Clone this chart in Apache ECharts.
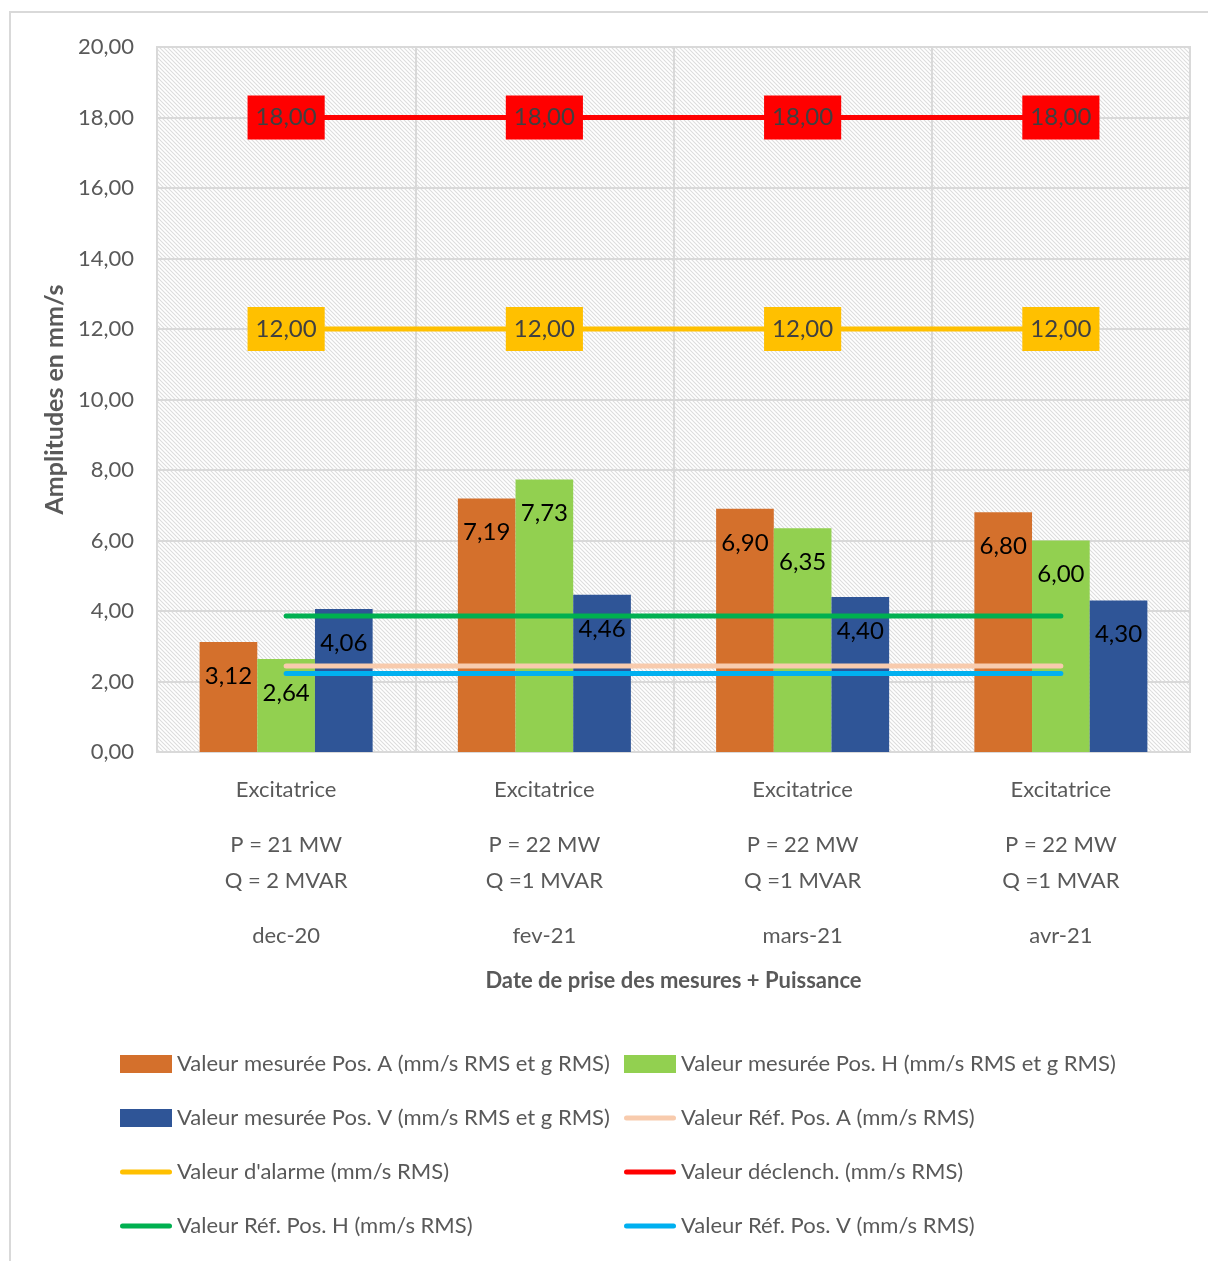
<!DOCTYPE html>
<html>
<head>
<meta charset="utf-8">
<script src="https://cdn.jsdelivr.net/npm/echarts@6/dist/echarts.min.js"></script>
<style>
  html, body { margin: 0; padding: 0; background: #fff; }
  #chart { width: 1208px; height: 1261px; }
</style>
</head>
<body>
<div id="chart"></div>
<script>
// Mesures de vibration - Excitatrice
const components = ['Excitatrice', 'Excitatrice', 'Excitatrice', 'Excitatrice'];
const powerP = ['P = 21 MW', 'P = 22 MW', 'P = 22 MW', 'P = 22 MW'];
const powerQ = ['Q = 2 MVAR', 'Q =1 MVAR', 'Q =1 MVAR', 'Q =1 MVAR'];
const dates = ['dec-20', 'fev-21', 'mars-21', 'avr-21'];

const measuredA = [3.12, 7.19, 6.90, 6.80];
const measuredH = [2.64, 7.73, 6.35, 6.00];
const measuredV = [4.06, 4.46, 4.40, 4.30];

const refA = [2.44, 2.44, 2.44, 2.44];
const refH = [3.86, 3.86, 3.86, 3.86];
const refV = [2.23, 2.23, 2.23, 2.23];
const alarm = [12, 12, 12, 12];
const trip = [18, 18, 18, 18];

const yTicks = { min: 0, max: 20, interval: 2 };

const FONT = "Lato, 'Open Sans', sans-serif";
const GREY = '#595959';
const fmt = v => Number(v).toFixed(2).replace('.', ',');

// diagonal hatch fill for the plot area
function hatch() {
  const c = document.createElement('canvas');
  c.width = 8; c.height = 8;
  const g = c.getContext('2d');
  g.fillStyle = '#ffffff';
  g.fillRect(0, 0, 8, 8);
  g.strokeStyle = '#dcdcdc';
  g.lineWidth = 1.1;
  for (let k = -8; k <= 8; k += 4) {
    g.beginPath();
    g.moveTo(k - 1, -1);
    g.lineTo(k + 9, 9);
    g.stroke();
  }
  return c;
}

const chart = echarts.init(document.getElementById('chart'));

const barLabel = {
  show: true, position: 'insideTop', distance: 22,
  color: '#000', fontSize: 24, fontFamily: FONT,
  formatter: p => fmt(p.value)
};

function bar(name, data, color) {
  return { name, type: 'bar', data, barGap: '0%', barCategoryGap: '33%',
    itemStyle: { color }, label: barLabel, z: 2 };
}

function refLine(name, data, color) {
  return { name, type: 'line', data, symbol: 'none', z: 3,
    lineStyle: { color, width: 5, cap: 'round' }, itemStyle: { color } };
}

function limitLine(name, data, color) {
  return { name, type: 'line', data, symbol: 'circle', symbolSize: 2, z: 4,
    lineStyle: { color, width: 5, cap: 'round' }, itemStyle: { color },
    label: { show: true, position: 'inside', backgroundColor: color,
      padding: [10, 8, 10, 8], color: '#404040', fontSize: 24, fontFamily: FONT,
      formatter: p => fmt(p.value) } };
}

const lineIcon = 'path://M2.5,0H49.5A2.5,2.5 0 0 1 49.5,5H2.5A2.5,2.5 0 0 1 2.5,0Z';
const legendText = { color: GREY, fontSize: 22, fontFamily: FONT };

function legendItem(name, isLine) {
  return isLine ? { name, icon: lineIcon, itemStyle: { borderWidth: 0 } }
                : { name, icon: 'rect', itemStyle: { borderWidth: 0 } };
}

const names = {
  A: 'Valeur mesurée Pos. A (mm/s RMS et g RMS)',
  H: 'Valeur mesurée Pos. H (mm/s RMS et g RMS)',
  V: 'Valeur mesurée Pos. V (mm/s RMS et g RMS)',
  rA: 'Valeur Réf. Pos. A (mm/s RMS)',
  al: "Valeur d'alarme (mm/s RMS)",
  tr: 'Valeur déclench. (mm/s RMS)',
  rH: 'Valeur Réf. Pos. H (mm/s RMS)',
  rV: 'Valeur Réf. Pos. V (mm/s RMS)'
};

const option = {
  animation: false,
  backgroundColor: '#fff',
  textStyle: { fontFamily: FONT },
  graphic: [{
    type: 'rect', shape: { x: 10, y: 12, width: 1220, height: 1270 },
    style: { fill: 'none', stroke: '#d9d9d9', lineWidth: 2 }, z: -10
  }],
  grid: {
    left: 157, right: 18, top: 47, bottom: 509, show: true,
    backgroundColor: { image: hatch(), repeat: 'repeat' },
    borderColor: '#d9d9d9', borderWidth: 2
  },
  legend: [{
    orient: 'vertical', left: 115, top: 1048, itemWidth: 52, itemHeight: 18,
    itemGap: 32, textStyle: legendText, selectedMode: false,
    data: [legendItem(names.A), legendItem(names.V), legendItem(names.al, true), legendItem(names.rH, true)]
  }, {
    orient: 'vertical', left: 619, top: 1048, itemWidth: 52, itemHeight: 18,
    itemGap: 32, textStyle: legendText, selectedMode: false,
    data: [legendItem(names.H), legendItem(names.rA, true), legendItem(names.tr, true), legendItem(names.rV, true)]
  }],
  xAxis: {
    type: 'category',
    data: dates.map((d, i) => i),
    name: 'Date de prise des mesures + Puissance',
    nameLocation: 'middle', nameGap: 218,
    nameTextStyle: { color: GREY, fontSize: 22, fontWeight: 'bold', fontFamily: FONT },
    axisLine: { show: true, lineStyle: { color: '#d9d9d9', width: 2 } },
    axisTick: { show: false },
    splitLine: { show: true, lineStyle: { color: '#d9d9d9', width: 2 } },
    axisLabel: {
      margin: 20, color: GREY, fontSize: 22, fontFamily: FONT, interval: 0,
      formatter: v => {
        const i = Number(v);
        return `{t|${components[i]}}\n{g| }\n{t|${powerP[i]}}\n{t|${powerQ[i]}}\n{g| }\n{t|${dates[i]}}`;
      },
      rich: {
        t: { color: GREY, fontSize: 22, lineHeight: 36, fontFamily: FONT },
        g: { fontSize: 1, lineHeight: 19 }
      }
    }
  },
  yAxis: {
    type: 'value', min: yTicks.min, max: yTicks.max, interval: yTicks.interval,
    name: 'Amplitudes en mm/s', nameLocation: 'middle', nameGap: 82,
    nameTextStyle: { color: GREY, fontSize: 25, fontWeight: 'bold', fontFamily: FONT },
    axisLine: { show: false }, axisTick: { show: false },
    splitLine: { show: true, lineStyle: { color: '#d9d9d9', width: 2 } },
    axisLabel: { margin: 23, color: GREY, fontSize: 22, fontFamily: FONT, formatter: v => fmt(v) }
  },
  series: [
    bar(names.A, measuredA, '#D4702C'),
    bar(names.H, measuredH, '#92D050'),
    bar(names.V, measuredV, '#2F5597'),
    refLine(names.rA, refA, '#F8CBAD'),
    limitLine(names.al, alarm, '#FFC000'),
    limitLine(names.tr, trip, '#FF0000'),
    refLine(names.rH, refH, '#00B050'),
    refLine(names.rV, refV, '#00B0F0')
  ]
};

chart.setOption(option);
</script>
</body>
</html>
